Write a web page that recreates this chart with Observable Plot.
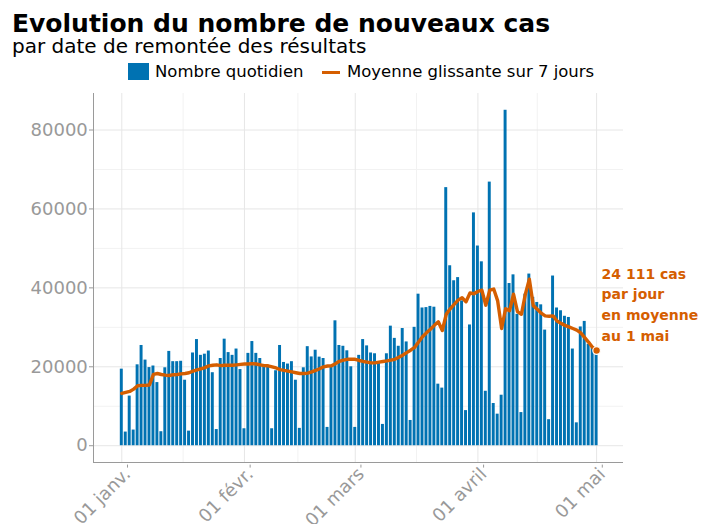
<!DOCTYPE html>
<html>
<head>
<meta charset="utf-8">
<script src="https://cdn.jsdelivr.net/npm/d3@7"></script>
<script src="https://cdn.jsdelivr.net/npm/@observablehq/plot@0.6"></script>
<style>
  body { margin: 0; background: #fff; font-family: "DejaVu Sans", sans-serif; width: 720px; height: 524px; position: relative; overflow: hidden; }
  #title { position: absolute; left: 12px; top: 12.5px; font-size: 25px; line-height: 22px; font-weight: bold; color: #000; white-space: nowrap; }
  #subtitle { position: absolute; left: 12px; top: 38px; font-size: 20px; line-height: 17px; color: #000; white-space: nowrap; }
  .legtxt { position: absolute; top: 64px; font-size: 16.5px; line-height: 16.5px; color: #000; white-space: nowrap; }
  #legsq { position: absolute; left: 128px; top: 63px; width: 21px; height: 17px; background: #0072B2; }
  #legline { position: absolute; left: 322px; top: 70.5px; width: 18px; height: 3.2px; background: #D55E00; }
  #chart { position: absolute; left: 0; top: 85px; }
</style>
</head>
<body>
<div id="title">Evolution du nombre de nouveaux cas</div>
<div id="subtitle">par date de remontée des résultats</div>
<div id="legsq"></div>
<div class="legtxt" style="left:155px">Nombre quotidien</div>
<div id="legline"></div>
<div class="legtxt" style="left:347px">Moyenne glissante sur 7 jours</div>
<div id="chart"></div>
<script>
// ---- data ----
const startDate = new Date(Date.UTC(2021, 0, 1));
const endDate = new Date(Date.UTC(2021, 4, 1));

const dailyJan = [19400, 3460, 12580, 3970, 20500, 25400, 21700, 19800, 20200, 16000, 3550, 19750, 23900, 21300, 21300, 21400, 16600, 3700, 23500, 26900, 22900, 23200, 24000, 18500, 4100, 22100, 27000, 23600, 22900, 24500, 19300];
const dailyFeb = [4300, 23400, 26400, 23400, 22100, 20400, 20000, 4300, 19000, 25400, 21100, 20700, 21300, 16600, 4400, 19750, 25100, 22500, 24200, 22450, 22100, 4640, 19900, 31650, 25400, 25200, 24050, 20000];
const dailyMar = [4640, 22900, 26900, 25300, 23500, 23300, 20850, 5400, 23300, 30300, 27200, 25200, 29700, 26300, 6400, 30000, 38400, 34900, 35000, 35300, 35100, 15600, 14600, 65400, 45600, 41800, 42600, 36700, 8900, 30600, 59000];
const dailyApr = [50600, 46600, 13800, 66800, 10700, 8000, 12800, 85000, 41100, 43300, 33300, 8400, 38400, 43500, 37600, 36300, 35700, 29300, 6600, 43000, 34900, 34200, 32800, 32500, 24500, 5800, 30100, 31500, 25700, 24900];
const dailyMay = [24500];

const avgJan = [13250, 13500, 13750, 14350, 15200, 15300, 15300, 15400, 18100, 18300, 18050, 17900, 17800, 18000, 18050, 18200, 18300, 18500, 18900, 19200, 19500, 19800, 20250, 20400, 20500, 20300, 20400, 20400, 20400, 20500, 20600];
const avgFeb = [20700, 20700, 20800, 20700, 20500, 20300, 20250, 20000, 19700, 19300, 19100, 18900, 18700, 18500, 18300, 18300, 18400, 18700, 19100, 19500, 20000, 20200, 20250, 20800, 21400, 21700, 21900, 21900];
const avgMar = [21900, 21600, 21350, 21200, 21000, 21000, 21200, 21350, 21500, 21700, 21900, 22400, 22950, 23600, 24200, 24900, 26300, 27600, 28600, 29500, 30500, 31400, 29200, 33300, 34700, 35800, 36900, 37500, 36500, 38700, 38500];
const avgApr = [39100, 39400, 35600, 39400, 39700, 36700, 29700, 34700, 34200, 38400, 34000, 33300, 38400, 42200, 35500, 34600, 33600, 32900, 32800, 32900, 31600, 31000, 30500, 30100, 29700, 29300, 28600, 27400, 26200, 24900];
const avgMay = [24111];

const yTicks = [0, 20000, 40000, 60000, 80000];
const yMinor = [10000, 30000, 50000, 70000];
const xTickDates = [[2021, 0, 1], [2021, 1, 1], [2021, 2, 1], [2021, 3, 1], [2021, 4, 1]];
const xTickLabels = ["01 janv.", "01 févr.", "01 mars", "01 avril", "01 mai"];
const xMinorDates = [[2021, 0, 16, 12], [2021, 1, 14, 12], [2021, 2, 16, 12], [2021, 3, 16, 0]];
const annotation = "24 111 cas\npar jour\nen moyenne\nau 1 mai";

// ---- build tables ----
const dates = d3.utcDay.range(startDate, d3.utcDay.offset(endDate, 1));
const dailyValues = [...dailyJan, ...dailyFeb, ...dailyMar, ...dailyApr, ...dailyMay];
const avgValues = [...avgJan, ...avgFeb, ...avgMar, ...avgApr, ...avgMay];
const daily = dates.map((d, i) => ({date: d, value: dailyValues[i]}));
const avg = dates.map((d, i) => ({date: d, value: avgValues[i]}));
const last = [avg[avg.length - 1]];
const xTicks = xTickDates.map(a => new Date(Date.UTC(...a)));
const xMinor = xMinorDates.map(a => new Date(Date.UTC(...a)));
const labelOf = new Map(xTicks.map((d, i) => [+d, xTickLabels[i]]));

const DAY = 864e5;
const xmin = new Date(+startDate - 7.15 * DAY);
const xmax = new Date(+startDate + 126.8 * DAY);
const ymin = -4250, ymax = 89250;

const blue = "#0072B2", orange = "#D55E00", axisGray = "#9a9a9a";

const chart = Plot.plot({
  width: 720,
  height: 439,
  marginTop: 8,
  marginBottom: 62,
  marginLeft: 93,
  marginRight: 97,
  style: {fontFamily: "DejaVu Sans", background: "white", overflow: "visible"},
  x: {type: "utc", domain: [xmin, xmax]},
  y: {domain: [ymin, ymax]},
  marks: [
    Plot.ruleY(yMinor, {stroke: "#f2f2f2", strokeWidth: 1}),
    Plot.ruleX(xMinor, {stroke: "#f2f2f2", strokeWidth: 1}),
    Plot.ruleY(yTicks, {stroke: "#e6e6e6", strokeWidth: 1}),
    Plot.ruleX(xTicks, {stroke: "#e6e6e6", strokeWidth: 1}),
    Plot.rectY(daily, {
      x1: d => new Date(+d.date - DAY / 2),
      x2: d => new Date(+d.date + DAY / 2),
      y: "value",
      fill: blue,
      insetLeft: 0.5,
      insetRight: 0.5
    }),
    Plot.line(avg, {x: "date", y: "value", stroke: orange, strokeWidth: 3.4, strokeLinejoin: "round", strokeLinecap: "round"}),
    Plot.dot(last, {x: "date", y: "value", r: 3.8, fill: orange, stroke: "white", strokeWidth: 1.2}),
    Plot.text(last, {
      x: "date", y: "value", text: () => annotation,
      dx: 5, dy: -10, textAnchor: "start", lineAnchor: "bottom",
      fontSize: 14, fontWeight: "bold", lineHeight: 1.47, fill: orange
    }),
    Plot.ruleX([xmin], {stroke: axisGray, strokeWidth: 1}),
    Plot.ruleY([ymin], {stroke: axisGray, strokeWidth: 1}),
    Plot.axisY({ticks: yTicks, tickFormat: d => String(d), tickSize: 4, tickPadding: 1.7, fontSize: 18, fill: "#999", stroke: axisGray, label: null}),
    Plot.axisX({ticks: xTicks, tickFormat: d => labelOf.get(+d), tickRotate: -45, tickSize: 3, tickPadding: 3, fontSize: 18, fill: "#999", stroke: axisGray, label: null, dx: 5.7, dy: 2.6})
  ]
});
document.getElementById("chart").appendChild(chart);
</script>
</body>
</html>
